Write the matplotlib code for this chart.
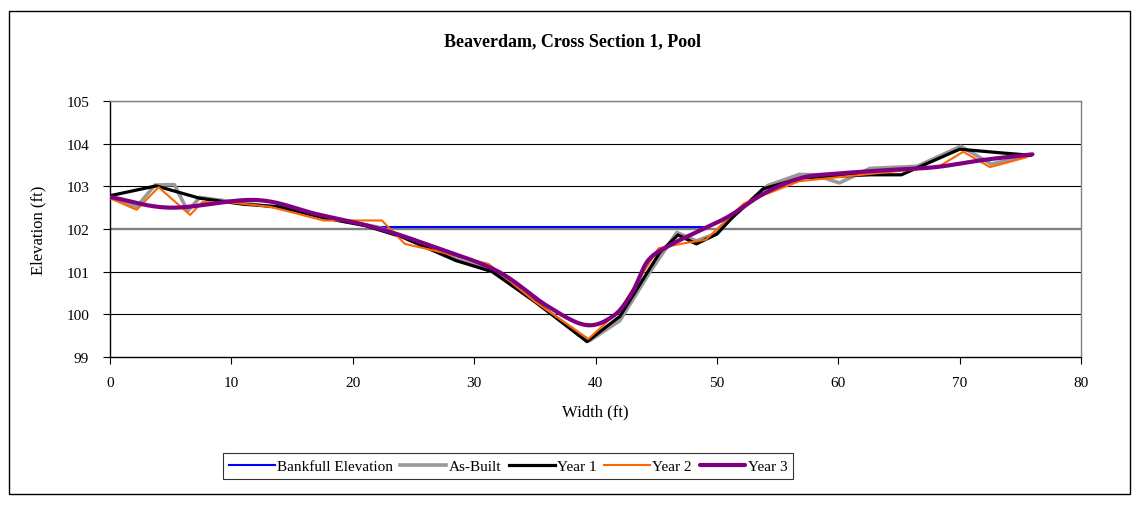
import numpy as np
import matplotlib
matplotlib.use("Agg")
import matplotlib.pyplot as plt
from matplotlib.patches import Rectangle

plt.rcParams['font.family'] = ['Liberation Serif', 'DejaVu Serif']

# Survey data: station (ft) and elevation (ft)
bankfull_x = [22.2, 49.3]
bankfull_y = [102.05, 102.05]

asbuilt_x = [0, 2.2, 3.7, 5.3, 6.4, 7.4, 9.5, 14, 18, 22, 25, 28.5, 31.5, 34, 39.5,
             42, 44.5, 46.7, 48.3, 50, 51.2, 54.2, 56.8, 58, 60.1, 62.6, 66.5, 70.1,
             72.6, 75.8]
asbuilt_y = [102.75, 102.52, 103.03, 103.04, 102.42, 102.74, 102.66, 102.5, 102.25,
             102.05, 101.75, 101.3, 101.0, 100.5, 99.38, 99.85, 101.0, 101.92, 101.72,
             101.9, 102.25, 103.02, 103.28, 103.27, 103.08, 103.42, 103.47, 103.94,
             103.52, 103.73]

year1_x = [0, 3.8, 7.4, 11, 14, 17.8, 21, 24, 28.5, 31.5, 35, 39.3, 42, 45.3, 46.8,
           48.3, 50, 51.2, 53.8, 57, 62.6, 65.2, 70, 73.6, 75.8]
year1_y = [102.78, 103.01, 102.72, 102.58, 102.52, 102.25, 102.08, 101.82, 101.26,
           101.0, 100.3, 99.36, 99.95, 101.45, 101.86, 101.65, 101.88, 102.25, 102.94,
           103.2, 103.27, 103.27, 103.87, 103.78, 103.73]

year2_x = [0, 2.2, 4, 6.6, 7.6, 10, 13.2, 17.6, 22.4, 24.3, 27.4, 31.2, 35, 39.4, 42,
           45.2, 47, 49.1, 50.2, 52.2, 53, 56.8, 62.6, 68.2, 70.3, 72.5, 75.5]
year2_y = [102.72, 102.45, 102.98, 102.33, 102.63, 102.62, 102.52, 102.2, 102.2,
           101.65, 101.45, 101.18, 100.3, 99.42, 100.1, 101.55, 101.65, 101.75, 102.05,
           102.59, 102.7, 103.12, 103.29, 103.45, 103.81, 103.45, 103.68]

year3_x = [0, 5, 12, 17, 22, 27, 32, 36, 39.2, 41.5, 43, 44.3, 46, 48.5, 51, 54, 57,
           60, 64, 68, 72, 76]
year3_y = [102.75, 102.5, 102.68, 102.35, 102.02, 101.55, 101.0, 100.2, 99.75, 99.97,
           100.5, 101.25, 101.6, 101.95, 102.3, 102.85, 103.2, 103.3, 103.38, 103.45,
           103.62, 103.75]


def smooth_curve(x, y, n=30):
    """Catmull-Rom curve through the given points (smoothed line style)."""
    p = np.column_stack([x, y]).astype(float)
    p = np.vstack([p[0] - (p[1] - p[0]), p, p[-1] + (p[-1] - p[-2])])
    out = []
    t = np.linspace(0, 1, n, endpoint=False)[:, None]
    for i in range(1, len(p) - 2):
        p0, p1, p2, p3 = p[i - 1], p[i], p[i + 1], p[i + 2]
        seg = 0.5 * ((2 * p1) + (-p0 + p2) * t + (2 * p0 - 5 * p1 + 4 * p2 - p3) * t ** 2
                     + (-p0 + 3 * p1 - 3 * p2 + p3) * t ** 3)
        out.append(seg)
    out.append(p[-2][None, :])
    out = np.vstack(out)
    return out[:, 0], out[:, 1]


W, H = 1138, 506
fig = plt.figure(figsize=(W / 100, H / 100), dpi=100)
fig.patch.set_facecolor('white')

# outer chart border
fig.add_artist(Rectangle((9 / W, 1 - 495 / H), (1130 - 9) / W, (495 - 12) / H,
                         transform=fig.transFigure, fill=False, edgecolor='black',
                         linewidth=1.0))

left, right, top, bottom = 110, 1081, 102, 358
ax = fig.add_axes([left / W, 1 - bottom / H, (right - left) / W, (bottom - top) / H])

ax.set_xlim(0, 80)
ax.set_ylim(99, 105)
ax.set_xticks(np.arange(0, 81, 10))
ax.set_yticks(np.arange(99, 106, 1))

for yv in range(100, 106):
    ax.axhline(yv, color='#808080' if yv == 102 else 'black',
               linewidth=1.7 if yv == 102 else 0.8, zorder=1)

ax.plot(bankfull_x, bankfull_y, color='#0000FF', linewidth=1.5, label='Bankfull Elevation', zorder=3)
ax.plot(asbuilt_x, asbuilt_y, color='#999999', linewidth=2.6, label='As-Built', zorder=4)
ax.plot(year1_x, year1_y, color='black', linewidth=2.3, label='Year 1', zorder=5)
ax.plot(year2_x, year2_y, color='#FF6600', linewidth=1.5, label='Year 2', zorder=6)
sx, sy = smooth_curve(year3_x, year3_y)
ax.plot(sx, sy, color='#800080', linewidth=3.0, label='Year 3', zorder=7,
        solid_capstyle='round')

for s in ['top', 'right']:
    ax.spines[s].set_color('#808080')
    ax.spines[s].set_linewidth(1.0)
for s in ['left', 'bottom']:
    ax.spines[s].set_color('black')
    ax.spines[s].set_linewidth(1.0)

ax.tick_params(axis='both', direction='out', length=5, width=0.8, labelsize=11,
               colors='black')
ax.tick_params(axis='x', pad=9)
ax.tick_params(axis='y', pad=10)

ax.set_xlabel('Width (ft)', fontsize=12, labelpad=10)
ax.set_ylabel('Elevation (ft)', fontsize=12, labelpad=14)

fig.text(573 / W, 1 - 42 / H, 'Beaverdam, Cross Section 1, Pool', ha='center',
         va='center', fontsize=13, fontweight='bold')

leg = fig.legend(loc='center', bbox_to_anchor=(508 / W, 1 - 467 / H), ncol=5,
                 frameon=True, fancybox=False, fontsize=11, handlelength=3.0,
                 handletextpad=0.15, columnspacing=0.5, borderpad=0.4,
                 edgecolor='black', borderaxespad=0)
leg.get_frame().set_linewidth(0.8)

fig.savefig('out.png', dpi=100, facecolor='white')
